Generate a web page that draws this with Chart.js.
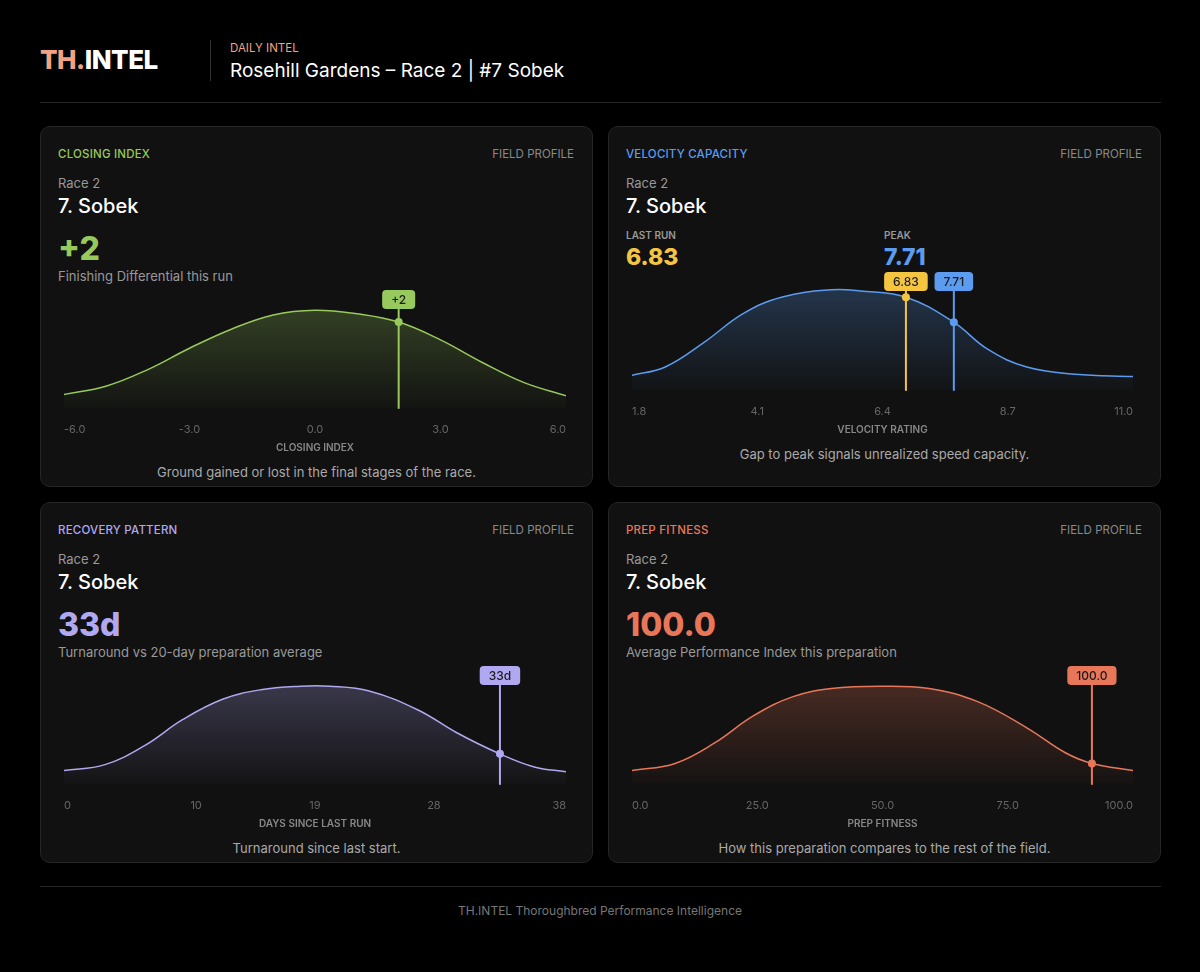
<!DOCTYPE html>
<html><head><meta charset="utf-8">
<script src="https://cdn.jsdelivr.net/npm/chart.js@4.4.1/dist/chart.umd.min.js"></script>
<style>
body{margin:0;background:#000;font-family:Inter,"Noto Sans",sans-serif;color:#fff;width:1200px;height:972px;position:relative;overflow:hidden}
.abs{position:absolute}
.card{position:absolute;background:#111;border:1px solid #262626;border-radius:10px;width:551px;height:359px}
.tag{position:absolute;top:20px;left:17px;font-size:11.5px;font-weight:500;letter-spacing:.2px}
.fp{position:absolute;top:20px;right:18px;font-size:11.5px;color:#8a8a8a}
.race{position:absolute;top:48px;left:17px;font-size:13px;color:#999}
.name{position:absolute;top:67px;left:17px;font-size:20px;font-weight:500;color:#fff}
.big{position:absolute;top:102px;left:17px;font-size:32px;font-weight:800}
.sub{position:absolute;top:141px;left:17px;font-size:13px;color:#999}
.cap{position:absolute;top:337px;left:0;width:551px;text-align:center;font-size:13px;color:#aaa}
canvas{position:absolute}
</style></head><body>
<div class="abs" style="left:40px;top:44px;font-size:26px;font-weight:800;letter-spacing:-.5px"><span style="color:#f2a282">TH.</span>INTEL</div>
<div class="abs" style="left:210px;top:40px;width:1px;height:41px;background:#333"></div>
<div class="abs" style="left:230px;top:41px;font-size:11.5px;color:#f2a282">DAILY INTEL</div>
<div class="abs" style="left:230px;top:59px;font-size:19px;color:#fff">Rosehill Gardens – Race 2 | #7 Sobek</div>
<div class="abs" style="left:40px;top:102px;width:1121px;height:1px;background:#262626"></div>
<div class="abs" style="left:40px;top:886px;width:1121px;height:1px;background:#262626"></div>
<div class="abs" style="left:0;top:903px;width:1200px;text-align:center;font-size:12px;color:#777">TH.INTEL Thoroughbred Performance Intelligence</div>

<div class="card" style="left:40px;top:126px"><div class="tag" style="color:#97c95c">CLOSING INDEX</div><div class="fp">FIELD PROFILE</div><div class="race">Race 2</div><div class="name">7. Sobek</div><div class="big" style="color:#97c95c">+2</div><div class="sub">Finishing Differential this run</div><div class="cap">Ground gained or lost in the final stages of the race.</div></div>
<div class="card" style="left:608px;top:126px"><div class="tag" style="color:#5b9cf0">VELOCITY CAPACITY</div><div class="fp">FIELD PROFILE</div><div class="race">Race 2</div><div class="name">7. Sobek</div>
<div class="abs" style="left:17px;top:102px;font-size:10px;color:#999;font-weight:600">LAST RUN</div><div class="abs" style="left:17px;top:116px;font-size:23px;font-weight:800;color:#f5c542">6.83</div>
<div class="abs" style="left:275px;top:102px;font-size:10px;color:#999;font-weight:600">PEAK</div><div class="abs" style="left:275px;top:116px;font-size:23px;font-weight:800;color:#5b9cf0">7.71</div>
<div class="cap" style="top:319px">Gap to peak signals unrealized speed capacity.</div></div>
<div class="card" style="left:40px;top:502px"><div class="tag" style="color:#b0a8f0">RECOVERY PATTERN</div><div class="fp">FIELD PROFILE</div><div class="race">Race 2</div><div class="name">7. Sobek</div><div class="big" style="color:#b0a8f0">33d</div><div class="sub">Turnaround vs 20-day preparation average</div><div class="cap">Turnaround since last start.</div></div>
<div class="card" style="left:608px;top:502px"><div class="tag" style="color:#e8775a">PREP FITNESS</div><div class="fp">FIELD PROFILE</div><div class="race">Race 2</div><div class="name">7. Sobek</div><div class="big" style="color:#e8775a">100.0</div><div class="sub">Average Performance Index this preparation</div><div class="cap">How this preparation compares to the rest of the field.</div></div>

<canvas id="c1" class="abs" style="left:58px;top:290px" width="514" height="168"></canvas>
<canvas id="c2" class="abs" style="left:626px;top:272px" width="513" height="168"></canvas>
<canvas id="c3" class="abs" style="left:58px;top:666px" width="514" height="168"></canvas>
<canvas id="c4" class="abs" style="left:626px;top:666px" width="513" height="168"></canvas>
<script>
const closingX=[-6,-5,-4,-3,-2,-1,0,1,2,3,4,5,6];
const closingY=[.12,.19,.33,.51,.67,.79,.83,.80,.73,.58,.39,.22,.11];
const velX=[1.8,2.41,3.13,3.84,4.56,5.46,6.0,6.82,7.70,8.33,9.05,9.94,11.0];
const velY=[.13,.20,.41,.65,.79,.85,.84,.79,.58,.35,.20,.14,.12];
const daysX=[0,3.1,6.1,9.0,12.0,14.9,17.9,20.1,23.1,26.8,29.7,32.8,35.6,38];
const daysY=[.12,.17,.33,.55,.72,.80,.83,.83,.79,.63,.44,.27,.15,.11];
const prepX=[0,8.6,16.4,24.2,32.0,39.8,49.5,59.3,69.0,78.8,86.5,91.8,100];
const prepY=[.12,.18,.35,.58,.74,.81,.83,.81,.70,.48,.27,.18,.12];
const closingTicks=[-6,-3,0,3,6], velTicks=[1.8,4.1,6.4,8.7,11.0], daysTicks=[0,10,19,28,38], prepTicks=[0,25,50,75,100];

function interp(xs,ys,x){for(let i=0;i<xs.length-1;i++){if(x>=xs[i]&&x<=xs[i+1]){const t=(x-xs[i])/(xs[i+1]-xs[i]);return ys[i]+t*(ys[i+1]-ys[i]);}}return ys[ys.length-1];}
function rr(ctx,x,y,w,h,r){ctx.beginPath();ctx.moveTo(x+r,y);ctx.arcTo(x+w,y,x+w,y+h,r);ctx.arcTo(x+w,y+h,x,y+h,r);ctx.arcTo(x,y+h,x,y,r);ctx.arcTo(x,y,x+w,y,r);ctx.closePath();}
function make(id,xs,ys,ticks,dec,color,rgb,title,markers){
  const markPlugin={id:'mk',afterDatasetsDraw(ch){const c=ch.ctx,a=ch.chartArea,sx=ch.scales.x,sy=ch.scales.y;
    markers.forEach(m=>{const px=sx.getPixelForValue(m.x),py=sy.getPixelForValue(interp(xs,ys,m.x));
      c.save();c.strokeStyle=m.color;c.lineWidth=2;c.beginPath();c.moveTo(px,a.top+19);c.lineTo(px,a.bottom);c.stroke();
      c.fillStyle=m.color;c.beginPath();c.arc(px,py,4,0,Math.PI*2);c.fill();
      c.font='500 12px Inter';const w=c.measureText(m.label).width+18;rr(c,px-w/2,a.top,w,19,4);c.fill();
      c.fillStyle='#1a1a1a';c.textAlign='center';c.textBaseline='middle';c.fillText(m.label,px,a.top+10);c.restore();});}};
  new Chart(document.getElementById(id),{type:'line',
    data:{datasets:[{data:xs.map((x,i)=>({x,y:ys[i]})),borderColor:color,borderWidth:1.5,pointRadius:0,tension:0.4,fill:'start',
      backgroundColor:(ctx)=>{const a=ctx.chart.chartArea;if(!a)return 'transparent';const g=ctx.chart.ctx.createLinearGradient(0,a.top,0,a.bottom);g.addColorStop(0,'rgba('+rgb+',0.3)');g.addColorStop(1,'rgba('+rgb+',0.02)');return g;}}]},
    options:{responsive:false,animation:false,layout:{padding:0},plugins:{legend:{display:false},tooltip:{enabled:false}},
      scales:{y:{display:false,min:0,max:1},
        x:{type:'linear',min:ticks[0],max:ticks[ticks.length-1],grid:{display:false},border:{display:false},
          afterBuildTicks:(s)=>{s.ticks=ticks.map(v=>({value:v}));},
          ticks:{align:'inner',color:'#666',font:{size:11,family:'Inter'},padding:6,maxRotation:0,callback:v=>v.toFixed(dec)},
          title:{display:true,text:title,color:'#888',font:{size:10,weight:'600',family:'Inter'},padding:{top:0}}}}},
    plugins:[markPlugin]});
}
make('c1',closingX,closingY,closingTicks,1,'#97c95c','151,201,92','CLOSING INDEX',[{x:2,label:'+2',color:'#97c95c'}]);
make('c2',velX,velY,velTicks,1,'#5b9cf0','91,156,240','VELOCITY RATING',[{x:6.83,label:'6.83',color:'#f5c542'},{x:7.71,label:'7.71',color:'#5b9cf0'}]);
make('c3',daysX,daysY,daysTicks,0,'#b0a8f0','176,168,240','DAYS SINCE LAST RUN',[{x:33,label:'33d',color:'#b0a8f0'}]);
make('c4',prepX,prepY,prepTicks,1,'#e8775a','232,119,90','PREP FITNESS',[{x:91.8,label:'100.0',color:'#e8775a'}]);
</script></body></html>
